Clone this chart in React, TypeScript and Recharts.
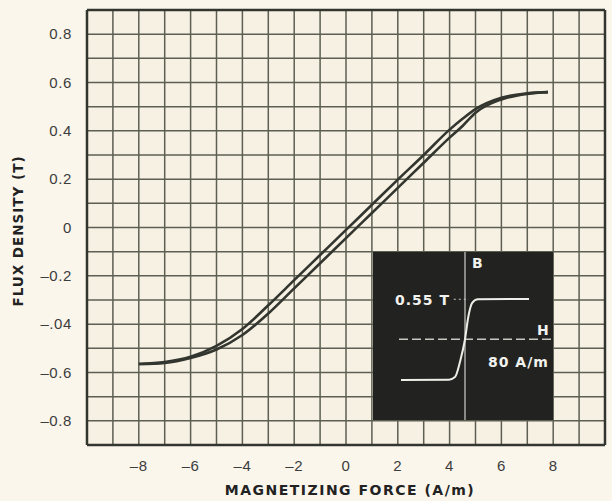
import React from "react";
import { LineChart, Line, XAxis, YAxis, CartesianGrid, ReferenceLine, Label } from "recharts";

// magnetizing force H (A/m) sample points along the loop
const hForce = [-8, -7, -6, -5, -4, -3, -2, -1, 0, 1, 2, 3, 4, 4.5, 5, 6, 7, 7.8];
// flux density B (T), descending branch (upper-left)
const bDescending = [-0.565, -0.557, -0.535, -0.49, -0.42, -0.322, -0.218, -0.114, -0.01, 0.094, 0.198, 0.3, 0.405, 0.45, 0.49, 0.537, 0.555, 0.56];
// flux density B (T), ascending branch (lower-right)
const bAscending = [-0.565, -0.56, -0.54, -0.505, -0.445, -0.356, -0.252, -0.148, -0.044, 0.06, 0.164, 0.268, 0.372, 0.42, 0.475, 0.53, 0.553, 0.56];

const xTicks = [-8, -6, -4, -2, 0, 2, 4, 6, 8];
const yTicks = [0.8, 0.6, 0.4, 0.2, 0, -0.2, -0.4, -0.6, -0.8];
const yTickLabels = ["0.8", "0.6", "0.4", "0.2", "0", "–0.2", "–.04", "–0.6", "–0.8"];
const gridH = [-9, -8, -7, -6, -5, -4, -3, -2, -1, 0, 1, 2, 3, 4, 5, 6, 7, 8, 9];
const gridB = [-0.8, -0.7, -0.6, -0.5, -0.4, -0.3, -0.2, -0.1, 0, 0.1, 0.2, 0.3, 0.4, 0.5, 0.6, 0.7, 0.8];

// inset: square loop of a different core, H in A/m, B in T
const insetH = [-160, -40, -25, -12, 0, 8, 18, 32, 160];
const insetB = [-0.56, -0.555, -0.52, -0.3, 0, 0.3, 0.5, 0.55, 0.555];

const loopData = hForce.map((h, i) => ({ h, down: bDescending[i], up: bAscending[i] }));
const insetData = insetH.map((h, i) => ({ h, b: insetB[i] }));

const INK = "#33362f";
const GRID = "#5c5f52";
const tickStyle = { fill: "#3c3c3c", fontSize: 15, letterSpacing: 0.6, fontFamily: "'Liberation Sans', Arial, sans-serif" };
const heavy = "'DejaVu Sans', sans-serif";

const fmtX = (v: number) => (v < 0 ? "–" + Math.abs(v) : String(v));
const fmtY = (v: number) => {
  const i = yTicks.findIndex((t) => Math.abs(t - v) < 1e-6);
  return i >= 0 ? yTickLabels[i] : String(v);
};

const insetText: React.CSSProperties = {
  position: "absolute",
  color: "#f2f2ee",
  fontFamily: heavy,
  fontWeight: 700,
  fontSize: 14,
  letterSpacing: 1,
  lineHeight: "16px",
  whiteSpace: "nowrap",
};

function Inset() {
  return (
    <div style={{ position: "absolute", left: 373, top: 252, width: 180, height: 168, background: "#222321" }}>
      <LineChart width={180} height={168} data={insetData} margin={{ top: 0, right: 0, bottom: 0, left: 0 }}>
        <XAxis type="number" dataKey="h" domain={[-230, 220]} hide height={0} />
        <YAxis type="number" domain={[-1.11, 1.2]} hide width={0} />
        <ReferenceLine x={0} stroke="#cfcfc8" strokeWidth={1.2} />
        <ReferenceLine
          segment={[{ x: -165, y: 0 }, { x: 220, y: 0 }]}
          stroke="#c8c8c0"
          strokeWidth={1.5}
          strokeDasharray="9 4"
        />
        <ReferenceLine
          segment={[{ x: -28, y: 0.55 }, { x: 10, y: 0.55 }]}
          stroke="#c8c8c0"
          strokeWidth={1}
          strokeDasharray="2 3"
        />
        <Line dataKey="b" type="monotone" stroke="#eeeee8" strokeWidth={2} dot={false} isAnimationActive={false} />
      </LineChart>
      <div style={{ ...insetText, left: 99, top: 3 }}>B</div>
      <div style={{ ...insetText, left: 22, top: 40 }}>0.55 T</div>
      <div style={{ ...insetText, left: 164, top: 70 }}>H</div>
      <div style={{ ...insetText, left: 115, top: 102 }}>80 A/m</div>
    </div>
  );
}

export default function App() {
  return (
    <div style={{ position: "relative", width: 612, height: 501, background: "#faf6ec", overflow: "hidden" }}>
      <style>{"body{margin:0}"}</style>
      <LineChart width={612} height={501} data={loopData} margin={{ top: 10, right: 7, bottom: 0, left: 0 }}>
        <CartesianGrid
          fill="#f7f1e4"
          stroke={GRID}
          strokeWidth={1.5}
          horizontalValues={gridB}
          verticalValues={gridH}
        />
        <XAxis
          type="number"
          dataKey="h"
          domain={[-10, 10]}
          ticks={xTicks}
          tickFormatter={fmtX}
          axisLine={false}
          tickLine={false}
          tickSize={0}
          tickMargin={15}
          tick={tickStyle}
          height={56}
          allowDataOverflow
        >
          <Label
            content={({ viewBox }: any) => (
              <text
                x={viewBox.x + viewBox.width / 2 + 4}
                y={viewBox.y + 50}
                textAnchor="middle"
                fontFamily={heavy}
                fontWeight={700}
                fontSize={14}
                letterSpacing={1.5}
                fill="#222"
              >
                MAGNETIZING FORCE (A/m)
              </text>
            )}
          />
        </XAxis>
        <YAxis
          type="number"
          domain={[-0.9, 0.9]}
          ticks={yTicks}
          tickFormatter={fmtY}
          axisLine={false}
          tickLine={false}
          tickSize={0}
          tickMargin={15}
          tick={tickStyle}
          width={87}
          allowDataOverflow
        >
          <Label
            content={() => {
              const cx = 18;
              const cy = 231;
              return (
                <text
                  x={cx}
                  y={cy}
                  transform={`rotate(-90 ${cx} ${cy})`}
                  textAnchor="middle"
                  dominantBaseline="central"
                  fontFamily={heavy}
                  fontWeight={700}
                  fontSize={13.5}
                  letterSpacing={1}
                  fill="#222"
                >
                  FLUX DENSITY (T)
                </text>
              );
            }}
          />
        </YAxis>
        <ReferenceLine x={-10} stroke={INK} strokeWidth={2.5} />
        <ReferenceLine x={10} stroke={INK} strokeWidth={2.5} />
        <ReferenceLine y={0.9} stroke={INK} strokeWidth={2.5} />
        <ReferenceLine y={-0.9} stroke={INK} strokeWidth={2.5} />
        <Line dataKey="down" type="monotone" stroke={INK} strokeWidth={2.6} dot={false} isAnimationActive={false} />
        <Line dataKey="up" type="monotone" stroke={INK} strokeWidth={2.6} dot={false} isAnimationActive={false} />
      </LineChart>
      <Inset />
    </div>
  );
}
